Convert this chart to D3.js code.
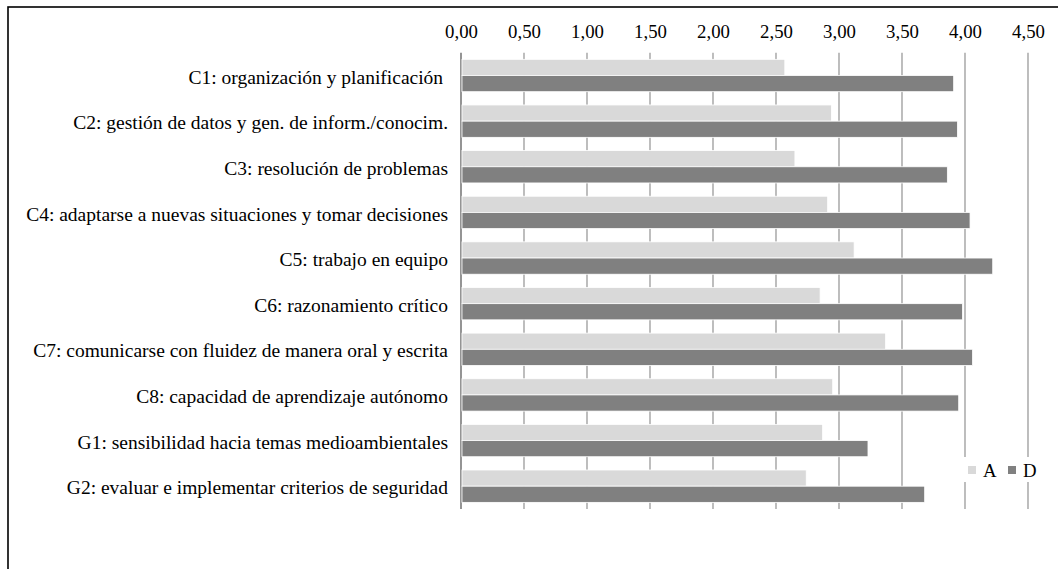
<!DOCTYPE html>
<html>
<head>
<meta charset="utf-8">
<script src="https://cdn.jsdelivr.net/npm/d3@7"></script>
<style>
  body { margin: 0; background: #fff; }
  svg text { font-family: "Liberation Serif", "Times New Roman", serif; fill: #000; }
</style>
</head>
<body>
<div id="chart"></div>
<script>
// Data
const categories = [
  "C1: organización y planificación ",
  "C2: gestión de datos y gen. de inform./conocim.",
  "C3: resolución de problemas",
  "C4: adaptarse a nuevas situaciones y tomar decisiones",
  "C5: trabajo en equipo",
  "C6: razonamiento crítico",
  "C7: comunicarse con fluidez de manera oral y escrita",
  "C8: capacidad de aprendizaje autónomo",
  "G1: sensibilidad hacia temas medioambientales",
  "G2: evaluar e implementar criterios de seguridad"
];
const seriesNames = ["A", "D"];
const valuesA = [2.57, 2.94, 2.65, 2.91, 3.12, 2.85, 3.37, 2.95, 2.87, 2.74];
const valuesD = [3.91, 3.94, 3.86, 4.04, 4.22, 3.98, 4.06, 3.95, 3.23, 3.68];
const tickValues = [0, 0.5, 1, 1.5, 2, 2.5, 3, 3.5, 4, 4.5];

const colors = { A: "#d9d9d9", D: "#808080" };

const width = 1058, height = 569;
const margin = { top: 52.7, right: 30, bottom: 60, left: 461 };

const svg = d3.select("#chart").append("svg")
  .attr("width", width)
  .attr("height", height);

// outer frame (right and bottom edges fall outside the picture)
svg.append("rect")
  .attr("x", 8).attr("y", 7)
  .attr("width", 1100).attr("height", 620)
  .attr("fill", "none")
  .attr("stroke", "#000")
  .attr("stroke-width", 1.6);

const data = categories.map((c, i) => ({ cat: c, A: valuesA[i], D: valuesD[i] }));

const xScale = d3.scaleLinear()
  .domain([0, 4.5])
  .range([margin.left, 1028]);

const yScale = d3.scaleBand()
  .domain(categories)
  .range([margin.top, height - margin.bottom])
  .paddingInner(0)
  .paddingOuter(0);

const ySub = d3.scaleBand()
  .domain(seriesNames)
  .range([0, yScale.bandwidth()])
  .paddingInner(0)
  .paddingOuter(0.41);

const locale = d3.formatLocale({ decimal: ",", thousands: ".", grouping: [3], currency: ["", "€"] });
const fmt = locale.format(".2f");

// gridlines
svg.append("g")
  .selectAll("line")
  .data(tickValues)
  .join("line")
  .attr("x1", d => xScale(d))
  .attr("x2", d => xScale(d))
  .attr("y1", margin.top)
  .attr("y2", height - margin.bottom)
  .attr("stroke", d => d === 0 ? "#7a7a7a" : "#888")
  .attr("stroke-width", d => d === 0 ? 1.6 : 1.1);

// top axis labels
const xAxis = d3.axisTop(xScale)
  .tickValues(tickValues)
  .tickFormat(fmt)
  .tickSize(0)
  .tickPadding(0);

const xAxisG = svg.append("g")
  .attr("transform", `translate(0, 38)`)
  .call(xAxis)
  .attr("font-family", null)
  .attr("font-size", null);
xAxisG.select(".domain").remove();
xAxisG.selectAll("text").style("font-size", "18.8px");

// category axis labels
const yAxis = d3.axisLeft(yScale).tickSize(0).tickPadding(13);
const yAxisG = svg.append("g")
  .attr("transform", `translate(${margin.left}, 0)`)
  .call(yAxis)
  .attr("font-family", null)
  .attr("font-size", null);
yAxisG.select(".domain").remove();
yAxisG.selectAll("text")
  .style("font-size", "19.5px")
  .style("white-space", "pre")
  .attr("dy", "0.42em");

// bars
const groups = svg.append("g")
  .selectAll("g")
  .data(data)
  .join("g")
  .attr("transform", d => `translate(0, ${yScale(d.cat)})`);

groups.selectAll("rect")
  .data(d => seriesNames.map(k => ({ key: k, value: d[k] })))
  .join("rect")
  .attr("x", xScale(0) + 1)
  .attr("y", d => ySub(d.key))
  .attr("width", d => xScale(d.value) - xScale(0) - 1)
  .attr("height", ySub.bandwidth())
  .attr("fill", d => colors[d.key])
  .attr("stroke", "#fff")
  .attr("stroke-width", 0.8);

// legend
const legend = svg.append("g").attr("transform", "translate(960, 457)");
legend.append("rect")
  .attr("x", 0).attr("y", 0)
  .attr("width", 80).attr("height", 25)
  .attr("fill", "#fff");
const items = legend.selectAll("g.item")
  .data(seriesNames)
  .join("g")
  .attr("class", "item")
  .attr("transform", (d, i) => `translate(${8 + i * 40}, 0)`);
items.append("rect")
  .attr("x", 0).attr("y", 9)
  .attr("width", 8).attr("height", 8)
  .attr("fill", d => colors[d]);
items.append("text")
  .attr("x", 15).attr("y", 20)
  .style("font-size", "18.8px")
  .text(d => d);
</script>
</body>
</html>
